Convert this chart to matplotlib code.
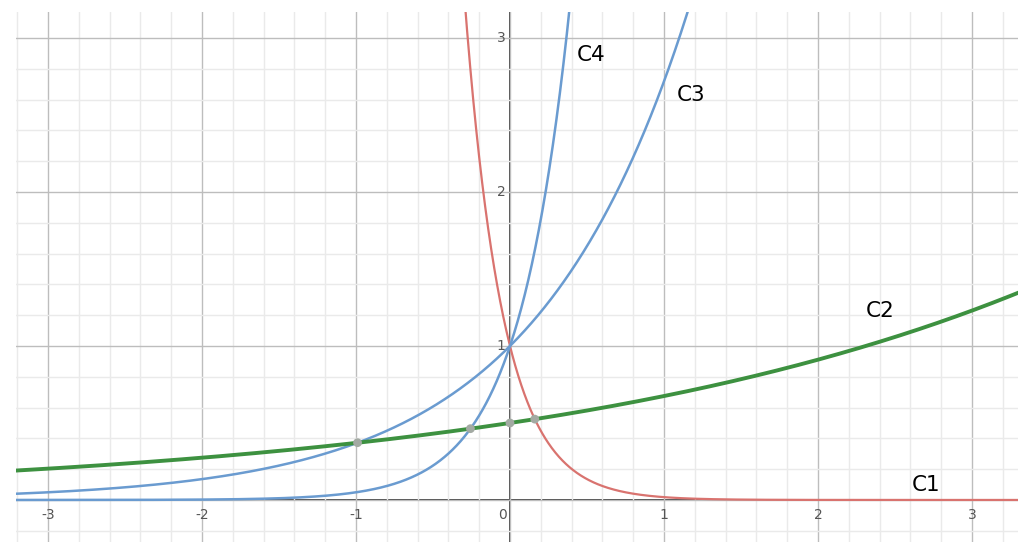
import numpy as np
import matplotlib.pyplot as plt

# curves y = a * exp(k * x)
names = ["C1", "C2", "C3", "C4"]
amps = [1.0, 0.5, 1.0, 1.0]
rates = [-4.0, 0.3, 1.0, 3.0]
colors = ["#d9736f", "#3d9140", "#6a9bd0", "#6a9bd0"]
widths = [1.6, 2.8, 1.8, 1.8]

# label positions for the curve names
label_x = [2.61, 2.31, 1.08, 0.435]
label_y = [0.10, 1.23, 2.63, 2.89]

# marked intersection points with C2
pts_x = [-0.99, -0.257, 0.0, 0.161]
pts_y = [0.372, 0.463, 0.5, 0.525]

xticks = [-3, -2, -1, 0, 1, 2, 3]
yticks = [1, 2, 3]

xmin, xmax = -3.208, 3.299
ymin, ymax = -0.273, 3.169

fig = plt.figure(figsize=(10.18, 5.42), dpi=100)
ax = fig.add_axes([16 / 1018, 0, 1 - 16 / 1018, 1 - 12 / 542])

ax.set_xlim(xmin, xmax)
ax.set_ylim(ymin, ymax)
ax.set_xticks(np.arange(-3, 4, 1))
ax.set_yticks(np.arange(0, 4, 1))
ax.set_xticks(np.arange(-3.2, 3.4, 0.2), minor=True)
ax.set_yticks(np.arange(-0.2, 3.2, 0.2), minor=True)
ax.grid(which="major", color="#bdbdbd", lw=1.0, zorder=0)
ax.grid(which="minor", color="#eaeaea", lw=1.0, zorder=0)
ax.tick_params(which="both", length=0, labelbottom=False, labelleft=False)
for s in ax.spines.values():
    s.set_visible(False)

ax.axhline(0, color="#444444", lw=1.4, zorder=1)
ax.axvline(0, color="#444444", lw=1.4, zorder=1)

x = np.linspace(xmin, xmax, 2000)
for n, a, k, c, w in zip(names, amps, rates, colors, widths):
    y = a * np.exp(k * x)
    y[y > ymax + 1] = np.nan
    ax.plot(x, y, color=c, lw=w, zorder=3 if n != "C2" else 4)

ax.scatter(pts_x, pts_y, s=40, color="#a3aaa3", zorder=5, edgecolors="none")

for n, lx, ly in zip(names, label_x, label_y):
    ax.text(lx, ly, n, fontsize=15.5, family="DejaVu Sans", color="black",
            ha="left", va="center", zorder=6)

for t in xticks:
    ax.text(t - (0.05 if t == 0 else 0), -0.1, str(t), fontsize=10,
            color="#555555", ha="center", va="center")
for t in yticks:
    ax.text(-0.03, t, str(t), fontsize=10, color="#555555",
            ha="right", va="center")

fig.savefig("out.png", dpi=100)
